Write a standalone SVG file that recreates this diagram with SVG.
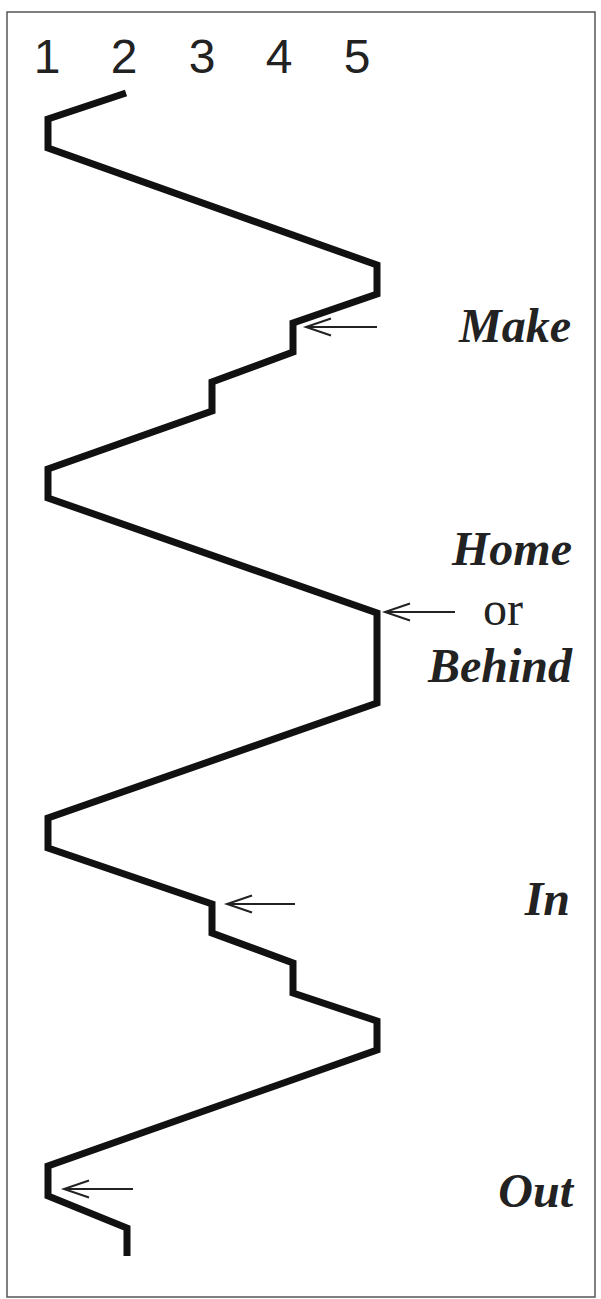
<svg xmlns="http://www.w3.org/2000/svg" width="601" height="1299" viewBox="0 0 601 1299">
<style>
.frame{fill:none;stroke:#555;stroke-width:1.5}
.num{font-family:"Liberation Sans",Arial,sans-serif;font-size:48px;fill:#222;text-anchor:middle}
.lbl{font-family:"Liberation Serif","Times New Roman",serif;font-size:48px;font-weight:bold;font-style:italic;fill:#222;text-anchor:end}
.or{font-family:"Liberation Serif","Times New Roman",serif;font-size:48px;fill:#222;text-anchor:middle}
.zig{fill:none;stroke:#111;stroke-width:7;stroke-linejoin:miter;stroke-linecap:butt}
.arr{fill:none;stroke:#222;stroke-width:2}
</style>
<defs>
<marker id="ah" markerWidth="30" markerHeight="22" refX="26" refY="11" orient="auto" markerUnits="userSpaceOnUse">
<path d="M1,2.5 L26,11 L1,19.5" fill="none" stroke="#222" stroke-width="2"/>
</marker>
</defs>
<rect class="frame" x="7" y="12" width="588" height="1285"/>
<g id="numbers">
<text class="num" x="47" y="73">1</text>
<text class="num" x="124" y="73">2</text>
<text class="num" x="202" y="73">3</text>
<text class="num" x="279" y="73">4</text>
<text class="num" x="357" y="73">5</text>
</g>
<g id="zigzag">
<path class="zig" d="M126,93 L48,119 L48,148 L377,265 L377,294 L293,323 L293,352 L212,382 L212,411 L48,469 L48,498 L377,613 L377,703 L48,818 L48,848 L212,904 L212,933 L293,963 L293,993 L377,1021 L377,1050 L48,1166 L48,1196 L127,1228 L127,1256"/>
</g>
<g id="label-make"><text class="lbl" x="571" y="342">Make</text></g>
<g id="label-home"><text class="lbl" x="572" y="565">Home</text><text class="or" x="503" y="625">or</text><text class="lbl" x="572" y="682">Behind</text></g>
<g id="label-in"><text class="lbl" x="570" y="915">In</text></g>
<g id="label-out"><text class="lbl" x="573" y="1207">Out</text></g>
<g id="connectors">
<line class="arr" x1="377" y1="327" x2="306" y2="327" marker-end="url(#ah)"/>
<line class="arr" x1="455" y1="612" x2="385" y2="612" marker-end="url(#ah)"/>
<line class="arr" x1="295" y1="904" x2="227" y2="904" marker-end="url(#ah)"/>
<line class="arr" x1="133" y1="1189" x2="64" y2="1189" marker-end="url(#ah)"/>
</g>
</svg>
